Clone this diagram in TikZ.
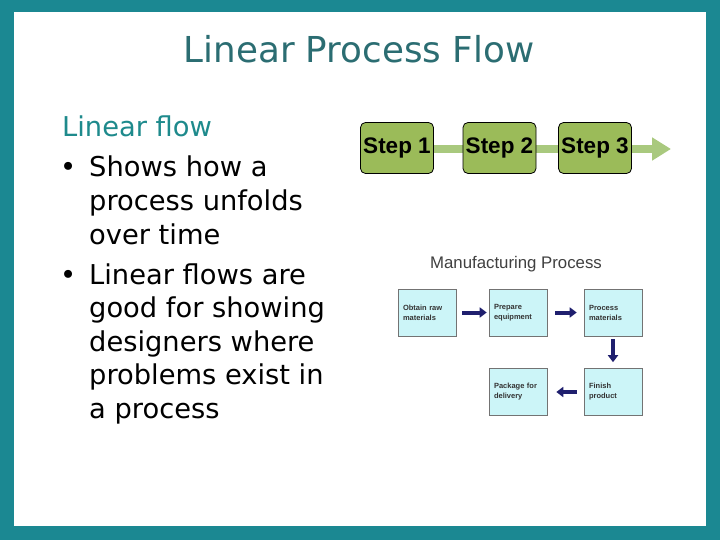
\documentclass[tikz,border=0pt]{standalone}
\usepackage{fontspec}
\setmainfont{DejaVu Sans}
\newfontfamily\arialfont{Liberation Sans}
\usetikzlibrary{arrows.meta,positioning}

\definecolor{frameteal}{HTML}{1B8892}
\definecolor{titleteal}{HTML}{2B6D72}
\definecolor{headteal}{HTML}{1E8A8C}
\definecolor{stepgreen}{HTML}{9BBB59}
\definecolor{arrowgreen}{HTML}{A9C97E}
\definecolor{boxcyan}{HTML}{CCF5F8}
\definecolor{navyarrow}{HTML}{1F1F6E}

\newcommand{\bodysize}{\fontsize{27.3}{33.5}\selectfont}
\newcommand{\bulletdot}[2]{\node[bodyline] (#1) at (60,#2) {•};}

\tikzset{
  bodyline/.style={anchor=base west, inner sep=0pt, font=\bodysize},
  stepbox/.style={draw=black, fill=stepgreen, rounded corners=5pt,
    minimum width=73pt, minimum height=51pt, inner sep=0pt, line width=0.8pt,
    font=\arialfont\bfseries\fontsize{22.5}{24}\selectfont},
  mfgbox/.style={draw=black!55, fill=boxcyan, minimum width=58pt, minimum height=47pt,
    text width=48pt, inner xsep=5pt, inner ysep=0pt, align=left, line width=0.6pt,
    font=\arialfont\bfseries\fontsize{7.5}{10}\selectfont, text=black!80},
  navy/.style={draw=navyarrow, line width=4pt, -{Triangle[length=7pt,width=10pt]}},
}

\begin{document}
\begin{tikzpicture}[x=1pt,y=-1pt]
  \useasboundingbox (0,0) rectangle (720,540);

  % frame
  \fill[frameteal] (0,0) rectangle (720,540);
  \fill[white] (14,12) rectangle (706,526);

  \node[anchor=base, inner sep=0pt, text=titleteal, font=\fontsize{35.7}{40}\selectfont]
    (title) at (359,63) {Linear Process Flow};

  % left column
  \node[bodyline, text=headteal] (head) at (62,137) {Linear flow};

  \bulletdot{dot1}{177}
  \node[bodyline] (t1a) at (89,177) {Shows how a};
  \node[bodyline] (t1b) at (89,210.5) {process unfolds};
  \node[bodyline] (t1c) at (89,244) {over time};

  \bulletdot{dot2}{284}
  \node[bodyline] (t2a) at (89,284) {Linear flows are};
  \node[bodyline] (t2b) at (89,317.5) {good for showing};
  \node[bodyline] (t2c) at (89,351) {designers where};
  \node[bodyline] (t2d) at (89,384.5) {problems exist in};
  \node[bodyline] (t2e) at (89,418) {a process};

  % steps
  \coordinate (tail) at (397,149);
  \coordinate (tip) at (671,149);
  \draw[arrowgreen, line width=8pt, -{Triangle[length=19pt,width=22pt]}] (tail) -- (tip);

  \node[stepbox] (s1) at (397,148) {Step 1};
  \node[stepbox] (s2) at (499.5,148) {Step 2};
  \node[stepbox] (s3) at (595,148) {Step 3};

  % manufacturing process
  \node[anchor=base, inner sep=0pt, text=black!75, font=\arialfont\fontsize{16.8}{18}\selectfont]
    (mtitle) at (516,268) {Manufacturing Process};

  \node[mfgbox] (m1) at (427,312.5) {Obtain raw\\materials};
  \node[mfgbox] (m2) at (518,312.5) {Prepare\\equipment};
  \node[mfgbox] (m3) at (613,312.5) {Process\\materials};
  \node[mfgbox] (m5) at (613,392) {Finish\\product};
  \node[mfgbox] (m4) at (518,392) {Package for\\delivery};

  \draw[navy, shorten <=6pt, shorten >=2pt] (m1) -- (m2);
  \draw[navy, shorten <=8pt, shorten >=7pt] (m2) -- (m3);
  \draw[navy, shorten <=3pt, shorten >=6pt] (m3) -- (m5);
  \draw[navy, shorten <=7pt, shorten >=9pt] (m5) -- (m4);

\end{tikzpicture}
\end{document}
